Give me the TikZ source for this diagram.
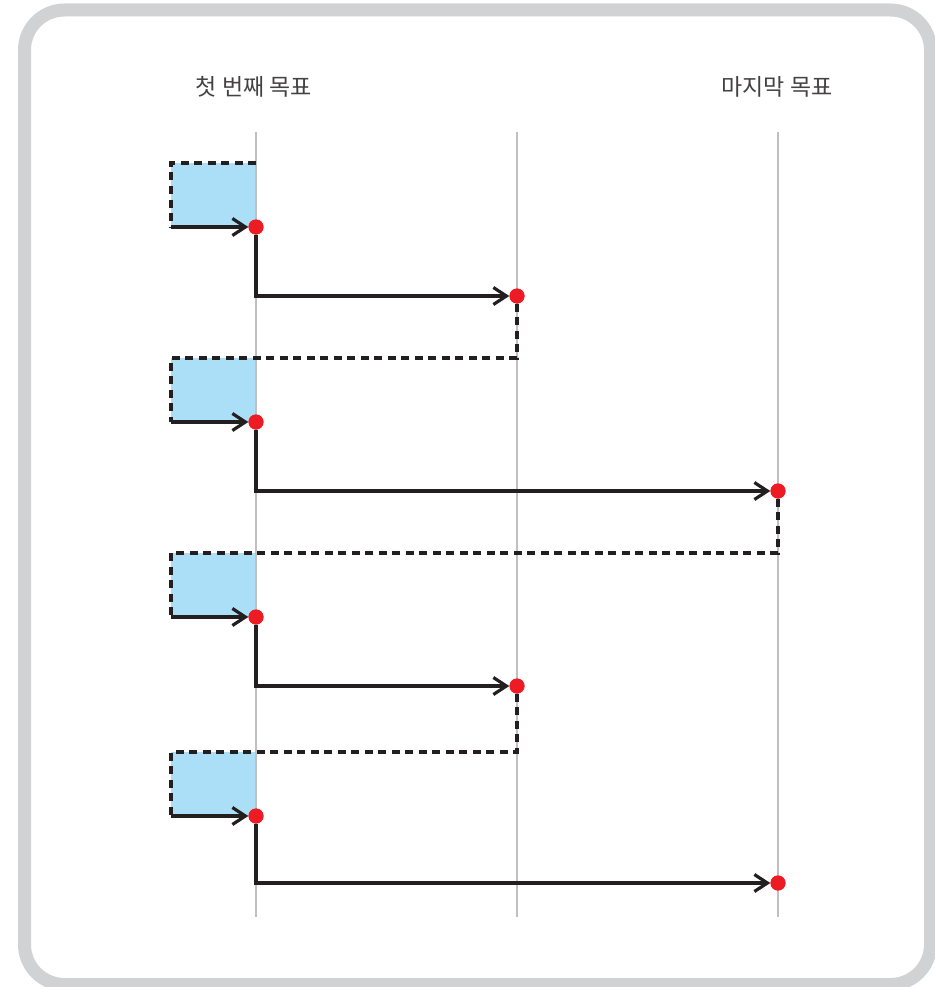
\documentclass[tikz,border=0pt]{standalone}
\usepackage{fontspec}
\newfontfamily\krfont{Noto Sans CJK KR}
\usetikzlibrary{arrows.meta}

\definecolor{framegray}{RGB}{209,210,212}
\definecolor{guidegray}{RGB}{192,192,194}
\definecolor{boxblue}{RGB}{171,223,248}
\definecolor{dotred}{RGB}{237,28,36}
\definecolor{inkblack}{RGB}{35,31,32}

\begin{document}
\begin{tikzpicture}[x=1pt, y=-1pt,
	goal/.style={circle, fill=dotred, inner sep=0pt, minimum size=15pt},
	move/.style={line width=3.2pt, draw=inkblack,
		-{Straight Barb[length=13pt, width=17pt, line width=3.2pt]}},
	back/.style={line width=3.2pt, draw=inkblack, dash pattern=on 8pt off 5.5pt},
	guide/.style={line width=1.8pt, draw=guidegray},
	goaltext/.style={font=\krfont\fontsize{23}{23}\selectfont, text=inkblack!85}
]
\useasboundingbox (0,0) rectangle (934,987);
\draw[line width=13pt, framegray, rounded corners=40pt] (24.5,10) rectangle (930.5,984.5);

% waiting boxes
\fill[boxblue] (171,163) rectangle (256,227);
\fill[boxblue] (171,358) rectangle (256,422);
\fill[boxblue] (171,553) rectangle (256,617);
\fill[boxblue] (171,752) rectangle (256,816);

% goal lines
\coordinate (line1top) at (256,132);
\coordinate (line1bot) at (256,917);
\coordinate (line2top) at (517,132);
\coordinate (line2bot) at (517,917);
\coordinate (line3top) at (778,132);
\coordinate (line3bot) at (778,917);
\draw[guide] (line1top) -- (line1bot);
\draw[guide] (line2top) -- (line2bot);
\draw[guide] (line3top) -- (line3bot);

\node[goaltext] (firstgoal) at (254,87) {첫 번째 목표};
\node[goaltext] (lastgoal) at (777,87) {마지막 목표};

% restarts
\node[goal] (a1) at (256,227) {};
\node[goal] (a2) at (256,422) {};
\node[goal] (a3) at (256,617) {};
\node[goal] (a4) at (256,816) {};
% reached goals
\node[goal] (b1) at (517,296) {};
\node[goal] (b2) at (778,491) {};
\node[goal] (b3) at (517,686) {};
\node[goal] (b4) at (778,883) {};

\coordinate (top1) at (256,163);
\coordinate (corner1) at (171,163);
\coordinate (corner2) at (171,358);
\coordinate (corner3) at (171,553);
\coordinate (corner4) at (171,752);
\coordinate (start1) at (171,227);
\coordinate (start2) at (171,422);
\coordinate (start3) at (171,617);
\coordinate (start4) at (171,816);

\draw[back] (top1) -- (corner1) -- (start1);
\draw[back] (b1) |- (corner2) -- (start2);
\draw[back] (b2) |- (corner3) -- (start3);
\draw[back] (b3) |- (corner4) -- (start4);

\draw[move] (start1) -- (a1);
\draw[move] (start2) -- (a2);
\draw[move] (start3) -- (a3);
\draw[move] (start4) -- (a4);

\draw[move] (a1) |- (b1);
\draw[move] (a2) |- (b2);
\draw[move] (a3) |- (b3);
\draw[move] (a4) |- (b4);

% dots on top
\node[goal] at (a1) {};
\node[goal] at (a2) {};
\node[goal] at (a3) {};
\node[goal] at (a4) {};
\node[goal] at (b1) {};
\node[goal] at (b2) {};
\node[goal] at (b3) {};
\node[goal] at (b4) {};
\end{tikzpicture}
\end{document}
